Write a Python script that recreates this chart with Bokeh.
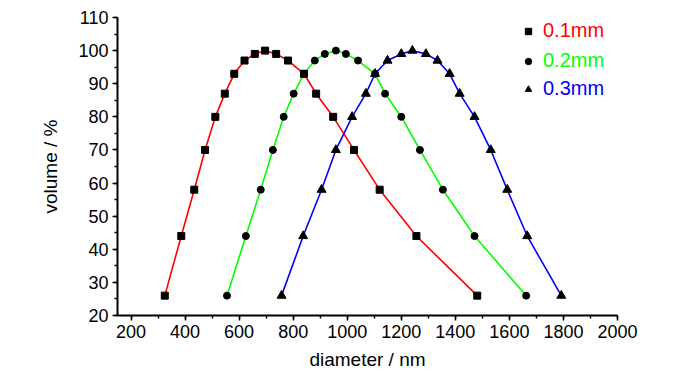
from bokeh.plotting import figure
from bokeh.models import Range1d, Legend, LegendItem, SingleIntervalTicker
from bokeh.embed import file_html
from bokeh.resources import INLINE

# data
volume = [26, 44, 58, 70, 80, 87, 93, 97, 99, 100, 99, 97, 93, 87, 80, 70, 58, 44, 26]
d_01mm = [325, 386, 434, 474, 512, 547, 582, 620, 658, 696, 737, 781, 840, 885, 948, 1025, 1120, 1256, 1481]
d_02mm = [555, 625, 680, 725, 765, 802, 840, 880, 917, 958, 995, 1040, 1103, 1140, 1200, 1269, 1354, 1471, 1662]
d_03mm = [757, 837, 905, 958, 1018, 1069, 1103, 1149, 1200, 1241, 1291, 1334, 1379, 1416, 1471, 1531, 1592, 1666, 1792]
labels = ["0.1mm", "0.2mm", "0.3mm"]
colors = ["#ff0000", "#00ff00", "#0000ff"]
markers = ["square", "circle", "triangle"]
msizes = [7, 7, 9]

FONT = "Liberation Sans"

p = figure(width=700, height=374, x_range=Range1d(150, 2000), y_range=Range1d(20, 110),
           output_backend="svg", toolbar_location=None,
           min_border_left=117, min_border_right=83, min_border_top=17, min_border_bottom=59)
p.outline_line_color = None
p.grid.visible = False
p.background_fill_color = "white"
p.border_fill_color = "white"

series = [d_01mm, d_02mm, d_03mm]
scat = []
for xs, col in zip(series, colors):
    p.line(xs, volume, line_color=col, line_width=1.6)
for xs, mk, ms in zip(series, markers, msizes):
    r = p.scatter(xs, volume, marker=mk, size=ms, fill_color="black", line_color="black")
    scat.append(r)

p.xaxis.ticker = SingleIntervalTicker(interval=200, num_minor_ticks=2)
p.yaxis.ticker = SingleIntervalTicker(interval=10, num_minor_ticks=2)
for ax in (p.xaxis[0], p.yaxis[0]):
    ax.axis_line_width = 2
    ax.axis_line_color = "black"
    ax.major_tick_line_width = 1.5
    ax.minor_tick_line_width = 1.5
    ax.major_tick_line_color = "black"
    ax.minor_tick_line_color = "black"
    ax.major_tick_in = 0
    ax.major_tick_out = 5
    ax.minor_tick_in = 0
    ax.minor_tick_out = 3
    ax.major_label_text_font = FONT
    ax.major_label_text_font_size = "18px"
    ax.major_label_text_color = "black"
    ax.axis_label_text_font = FONT
    ax.axis_label_text_font_size = "19px"
    ax.axis_label_text_font_style = "normal"
    ax.axis_label_text_color = "black"
    ax.major_label_standoff = 4

p.xaxis.axis_label = "diameter / nm"
p.yaxis.axis_label = "volume / %"
p.xaxis.axis_label_standoff = 8
p.yaxis.axis_label_standoff = 14

leg_pos = [(403, 273), (403, 243), (403, 215)]
for lab, col, r, pos in zip(labels, colors, scat, leg_pos):
    leg = Legend(items=[LegendItem(label=lab, renderers=[r])], location=pos,
                 label_text_color=col, label_text_font=FONT, label_text_font_size="20px",
                 border_line_color=None, background_fill_alpha=0, padding=0, margin=0,
                 glyph_width=16, glyph_height=16, label_standoff=7, label_height=20)
    p.add_layout(leg, "center")

open("out.html", "w").write(file_html(p, INLINE))
